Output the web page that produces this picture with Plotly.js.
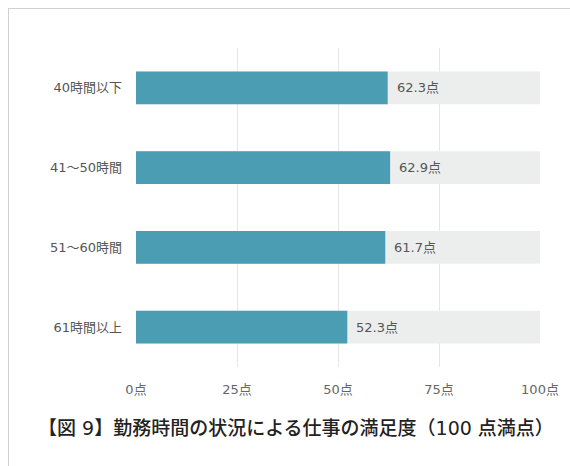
<!DOCTYPE html>
<html>
<head>
<meta charset="utf-8">
<script src="https://cdn.plot.ly/plotly-3.0.1.min.js"></script>
<style>
  html, body { margin: 0; padding: 0; background: #fff; }
  #wrap { position: relative; width: 570px; height: 466px; overflow: hidden; }
  #frame { position: absolute; left: 8px; top: 8px; width: 600px; height: 500px;
           border-top: 1px solid #d0d0d0; border-left: 1px solid #d0d0d0; }
  #chart { position: absolute; left: 0; top: 0; width: 570px; height: 466px; }
</style>
</head>
<body>
<div id="wrap">
  <div id="frame"></div>
  <div id="chart"></div>
</div>
<script>
const categories = ["40時間以下", "41～50時間", "51～60時間", "61時間以上"];
const scores = [62.3, 62.9, 61.7, 52.3];
const fullScale = [100, 100, 100, 100];
const tickValues = [0, 25, 50, 75, 100];
const tickLabels = ["0点", "25点", "50点", "75点", "100点"];
const titleText = "【図 9】勤務時間の状況による仕事の満足度（100 点満点）";

const font = "'DejaVu Sans', 'Noto Sans CJK JP', sans-serif";

const traces = [
  {
    type: "bar", orientation: "h",
    y: categories, x: fullScale,
    marker: { color: "#eceeed" },
    hoverinfo: "skip", showlegend: false
  },
  {
    type: "bar", orientation: "h",
    y: categories, x: scores,
    marker: { color: "#4a9db2" },
    hoverinfo: "skip", showlegend: false
  }
];

const valueLabels = scores.map((v, i) => ({
  xref: "x", yref: "y",
  x: v, y: categories[i],
  xanchor: "left", yanchor: "middle",
  xshift: 7,
  text: v.toFixed(1) + "点",
  showarrow: false,
  font: { family: font, size: 13, color: "#555" }
}));

const layout = {
  width: 570, height: 466,
  margin: { l: 136, r: 30, t: 48, b: 99 },
  paper_bgcolor: "rgba(0,0,0,0)",
  plot_bgcolor: "rgba(0,0,0,0)",
  barmode: "overlay",
  bargap: 0.59,
  font: { family: font, size: 13, color: "#555" },
  xaxis: {
    range: [0, 100],
    tickvals: tickValues, ticktext: tickLabels,
    showgrid: true, gridcolor: "#e6e6e6", gridwidth: 1,
    zeroline: false, showline: false,
    ticks: "", ticklabelstandoff: 13,
    tickfont: { family: font, size: 13, color: "#666" },
    fixedrange: true
  },
  yaxis: {
    autorange: "reversed",
    showgrid: false, zeroline: false, showline: false,
    ticks: "", ticklabelstandoff: 13,
    tickfont: { family: font, size: 13, color: "#555" },
    fixedrange: true
  },
  annotations: valueLabels.concat([
    {
      xref: "paper", yref: "paper",
      x: 0.395, y: -0.19,
      xanchor: "center", yanchor: "middle",
      text: titleText, showarrow: false,
      font: { family: font, size: 19, color: "#222", weight: 500 }
    }
  ])
};

Plotly.newPlot("chart", traces, layout, { displayModeBar: false, staticPlot: true });
</script>
</body>
</html>
